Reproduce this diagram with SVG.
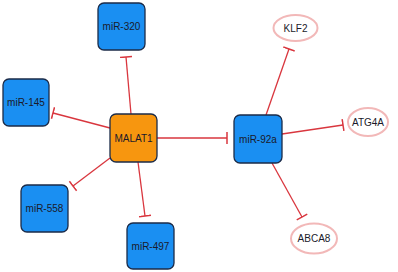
<svg xmlns="http://www.w3.org/2000/svg" width="398" height="272" viewBox="0 0 398 272">
<style>
.mir rect{fill:#1a8ff2;stroke:#1b2b48;stroke-width:1.3}
.lnc rect{fill:#f7960f;stroke:#1b2b48;stroke-width:1.3}
.gene ellipse{fill:#fff;stroke:#f2b8b8;stroke-width:2}
text{font-family:"Liberation Sans",Arial,sans-serif;font-size:10px;fill:#1a1a2a;text-anchor:middle;dominant-baseline:central}
.edges line{stroke:#d9363e;stroke-width:1.3;marker-end:url(#tbar)}
</style>
<defs>
<marker id="tbar" markerUnits="userSpaceOnUse" markerWidth="4" markerHeight="14" refX="1" refY="7" orient="auto" viewBox="0 0 4 14">
<line x1="1" y1="1" x2="1" y2="13" stroke="#d9363e" stroke-width="1.5"/>
</marker>
</defs>
<rect width="398" height="272" fill="#fff"/>
<g class="edges" id="edges">
<line x1="131" y1="114" x2="126" y2="57"/>
<line x1="110" y1="128" x2="53" y2="113"/>
<line x1="110" y1="158" x2="73" y2="186"/>
<line x1="138" y1="162" x2="145" y2="216"/>
<line x1="157" y1="138" x2="227" y2="138"/>
<line x1="266" y1="115" x2="289" y2="49"/>
<line x1="282" y1="134" x2="343" y2="125"/>
<line x1="272" y1="163" x2="302" y2="217"/>
</g>
<g id="miR-320" class="mir"><rect x="98" y="3" width="47" height="47" rx="6"/><text x="121.5" y="26.5">miR-320</text></g>
<g id="miR-145" class="mir"><rect x="3" y="79" width="46" height="47" rx="6"/><text x="26" y="102.5">miR-145</text></g>
<g id="MALAT1" class="lnc"><rect x="110" y="114" width="47" height="48" rx="6"/><text x="133.5" y="138">MALAT1</text></g>
<g id="miR-558" class="mir"><rect x="21" y="185" width="47" height="47" rx="6"/><text x="44.5" y="208.5">miR-558</text></g>
<g id="miR-497" class="mir"><rect x="127" y="223" width="47" height="46" rx="6"/><text x="150.5" y="246">miR-497</text></g>
<g id="miR-92a" class="mir"><rect x="234" y="115" width="48" height="48" rx="6"/><text x="258" y="139">miR-92a</text></g>
<g id="KLF2" class="gene"><ellipse cx="295.5" cy="28" rx="22" ry="13"/><text x="295.5" y="28">KLF2</text></g>
<g id="ATG4A" class="gene"><ellipse cx="368" cy="122" rx="20" ry="14"/><text x="368" y="122">ATG4A</text></g>
<g id="ABCA8" class="gene"><ellipse cx="314" cy="238.5" rx="23" ry="15"/><text x="314" y="238.5">ABCA8</text></g>
</svg>
